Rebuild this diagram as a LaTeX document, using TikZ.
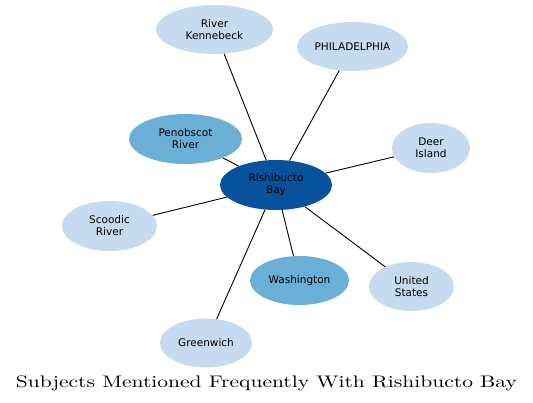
\documentclass[tikz,border=0pt]{standalone}
\usepackage{fontspec}
\newfontfamily\labelfont{DejaVu Sans}
\usetikzlibrary{shapes.geometric}
\definecolor{lightblue}{HTML}{C6DBEF}
\definecolor{midblue}{HTML}{6BAED6}
\definecolor{darkblue}{HTML}{08519C}

\begin{document}
\begin{tikzpicture}[x=1pt, y=-1pt,
    subject/.style={ellipse, draw=none, fill=lightblue, inner sep=0pt, align=center,
      font=\labelfont\fontsize{10.5}{12}\selectfont},
    link/.style={line width=0.9pt}]
    \useasboundingbox (0,0) rectangle (533,403);

    % Central subject
    \node[subject, fill=darkblue, minimum width=112, minimum height=50] (bay) at (276,185) {Rishibucto\\Bay};

    % Related subjects
    \node[subject, minimum width=117, minimum height=49] (kennebeck) at (214.5,29.5) {River\\Kennebeck};
    \node[subject, minimum width=111, minimum height=49] (phila) at (352.5,46.5) {PHILADELPHIA};
    \node[subject, fill=midblue, minimum width=113, minimum height=50] (penobscot) at (185.5,139) {Penobscot\\River};
    \node[subject, minimum width=78, minimum height=50] (deer) at (431,148) {Deer\\Island};
    \node[subject, minimum width=95, minimum height=50] (scoodic) at (109.5,226) {Scoodic\\River};
    \node[subject, fill=midblue, minimum width=99, minimum height=49] (washington) at (299.5,280.5) {Washington};
    \node[subject, minimum width=85, minimum height=49] (states) at (411.5,286.5) {United\\States};
    \node[subject, minimum width=92, minimum height=49] (greenwich) at (206,343) {Greenwich};

    % Links
    \foreach \other in {kennebeck,phila,penobscot,deer,scoodic,washington,states,greenwich}
      \draw[link] (bay) -- (\other);

    % Title
    \node[inner sep=0pt, anchor=base] (title) at (266.5,387)
      {\resizebox{501pt}{11.8pt}{\fontsize{10}{12}\selectfont Subjects Mentioned Frequently With Rishibucto Bay}};
\end{tikzpicture}
\end{document}
